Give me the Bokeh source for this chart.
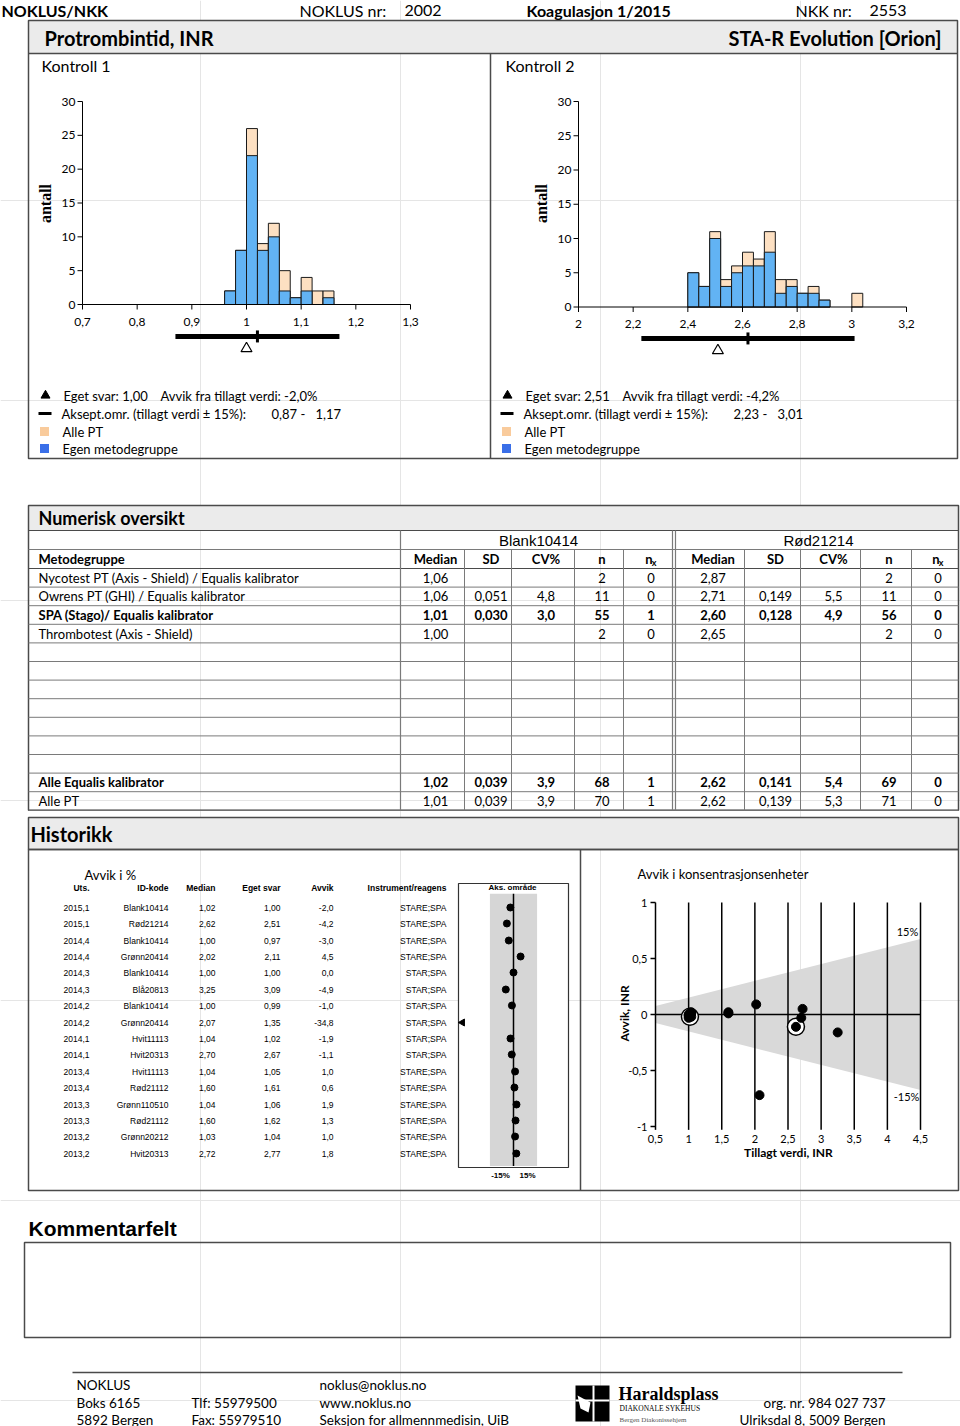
import numpy as np
from collections import defaultdict
from bokeh.plotting import figure
from bokeh.models import Range1d
from bokeh.core.properties import value
from bokeh.embed import file_html
from bokeh.resources import INLINE

# ---------------- data ----------------
program = "NOKLUS/NKK"
noklus_nr = "2002"
survey = "Koagulasjon 1/2015"
nkk_nr = "2553"
analyte = "Protrombintid, INR"
instrument = "STA-R Evolution [Orion]"
controls = ["Kontroll 1", "Kontroll 2"]
materials = ["Blank10414", "Rød21214"]

# histogram, Kontroll 1 (bin start, width 0.02)
k1_bin_start = [0.96, 0.98, 1.00, 1.02, 1.04, 1.06, 1.08, 1.10, 1.12, 1.14]
k1_egen = [2, 8, 22, 8, 10, 2, 1, 2, 0, 1]
k1_alle = [2, 8, 26, 9, 12, 5, 1, 4, 2, 2]
k1_bin_width = 0.02
k1_xticks = [0.7, 0.8, 0.9, 1.0, 1.1, 1.2, 1.3]
k1_xlabels = ["0,7", "0,8", "0,9", "1", "1,1", "1,2", "1,3"]

# histogram, Kontroll 2 (bin start, width 0.04)
k2_bin_start = [2.40, 2.44, 2.48, 2.52, 2.56, 2.60, 2.64, 2.68, 2.72, 2.76, 2.80, 2.84, 2.88, 3.00]
k2_egen = [5, 3, 10, 3, 5, 6, 6, 8, 2, 3, 2, 2, 1, 0]
k2_alle = [5, 3, 11, 4, 6, 8, 7, 11, 4, 4, 2, 3, 1, 2]
k2_bin_width = 0.04
k2_xticks = [2.0, 2.2, 2.4, 2.6, 2.8, 3.0, 3.2]
k2_xlabels = ["2", "2,2", "2,4", "2,6", "2,8", "3", "3,2"]

hist_yticks = [0, 5, 10, 15, 20, 25, 30]
hist_ylabels = ["0", "5", "10", "15", "20", "25", "30"]

own_result = [1.00, 2.51]
target_value = [1.02, 2.62]
deviation_pct = [-2.0, -4.2]
accept_low = [0.87, 2.23]
accept_high = [1.17, 3.01]

# Numerisk oversikt
method_groups = ["Nycotest PT (Axis - Shield) / Equalis kalibrator",
                 "Owrens PT (GHI) / Equalis kalibrator",
                 "SPA (Stago)/ Equalis kalibrator",
                 "Thrombotest (Axis - Shield)"]
own_group_index = 2
k1_median = [1.06, 1.06, 1.01, 1.00]
k1_sd = [None, 0.051, 0.030, None]
k1_cv = [None, 4.8, 3.0, None]
k1_n = [2, 11, 55, 2]
k1_nx = [0, 0, 1, 0]
k2_median = [2.87, 2.71, 2.60, 2.65]
k2_sd = [None, 0.149, 0.128, None]
k2_cv = [None, 5.5, 4.9, None]
k2_n = [2, 11, 56, 2]
k2_nx = [0, 0, 0, 0]
summary_labels = ["Alle Equalis kalibrator", "Alle PT"]
sum_k1_median = [1.02, 1.01]
sum_k1_sd = [0.039, 0.039]
sum_k1_cv = [3.9, 3.9]
sum_k1_n = [68, 70]
sum_k1_nx = [1, 1]
sum_k2_median = [2.62, 2.62]
sum_k2_sd = [0.141, 0.139]
sum_k2_cv = [5.4, 5.3]
sum_k2_n = [69, 71]
sum_k2_nx = [0, 0]

# Historikk
hist_uts = ["2015,1", "2015,1", "2014,4", "2014,4", "2014,3", "2014,3", "2014,2", "2014,2",
            "2014,1", "2014,1", "2013,4", "2013,4", "2013,3", "2013,3", "2013,2", "2013,2"]
hist_id = ["Blank10414", "Rød21214", "Blank10414", "Grønn20414", "Blank10414", "Blå20813",
           "Blank10414", "Grønn20414", "Hvit11113", "Hvit20313", "Hvit11113", "Rød21112",
           "Grønn110510", "Rød21112", "Grønn20212", "Hvit20313"]
hist_median = [1.02, 2.62, 1.00, 2.02, 1.00, 3.25, 1.00, 2.07, 1.04, 2.70, 1.04, 1.60, 1.04, 1.60, 1.03, 2.72]
hist_eget = [1.00, 2.51, 0.97, 2.11, 1.00, 3.09, 0.99, 1.35, 1.02, 2.67, 1.05, 1.61, 1.06, 1.62, 1.04, 2.77]
hist_avvik = [-2.0, -4.2, -3.0, 4.5, 0.0, -4.9, -1.0, -34.8, -1.9, -1.1, 1.0, 0.6, 1.9, 1.3, 1.0, 1.8]
hist_instr = ["STARE;SPA", "STARE;SPA", "STARE;SPA", "STARE;SPA", "STAR;SPA", "STAR;SPA",
              "STAR;SPA", "STAR;SPA", "STAR;SPA", "STAR;SPA", "STARE;SPA", "STARE;SPA",
              "STARE;SPA", "STARE;SPA", "STARE;SPA", "STARE;SPA"]
current_round = "2015,1"
limit_pct = 15

sc_xticks = [0.5, 1.0, 1.5, 2.0, 2.5, 3.0, 3.5, 4.0, 4.5]
sc_xlabels = ["0,5", "1", "1,5", "2", "2,5", "3", "3,5", "4", "4,5"]
sc_yticks = [1.0, 0.5, 0.0, -0.5, -1.0]
sc_ylabels = ["1", "0,5", "0", "-0,5", "-1"]

# ---------------- styles ----------------
SANS = "Lato"
ARIAL = "Liberation Sans"
SERIF = "Liberation Serif"
BLUE = "#62B3F4"
PEACH = "#FDE0C2"
LEG_BLUE = "#3A6FE8"
LEG_PEACH = "#F9CB9C"
BAR_FILL = "#ebebeb"
FRAME = "#4a4a4a"
GRID = "#7a7a7a"


def fmt(v, d):
    if v is None:
        return ""
    return f"{v:.{d}f}".replace(".", ",")


p = figure(width=960, height=1426, x_range=Range1d(0, 960), y_range=Range1d(1426, 0),
           x_axis_location=None, y_axis_location=None, toolbar_location=None,
           output_backend="svg", min_border=0)
p.outline_line_color = None
p.background_fill_color = "white"
p.border_fill_color = "white"

texts = defaultdict(lambda: dict(x=[], y=[], text=[]))
lines = defaultdict(lambda: dict(x0=[], y0=[], x1=[], y1=[]))


def T(x, y, s, size=13, bold=False, align="left", font=SANS, color="black", angle=0.0, baseline="middle"):
    g = texts[(size, bold, align, font, color, angle, baseline)]
    g["x"].append(x); g["y"].append(y); g["text"].append(s)


def L(x0, y0, x1, y1, color=GRID, width=1.0):
    g = lines[(color, width)]
    g["x0"].append(x0); g["y0"].append(y0); g["x1"].append(x1); g["y1"].append(y1)


def R(l, r, t, b, fill=None, line=None, width=1.0):
    p.quad(left=[l], right=[r], top=[t], bottom=[b], fill_color=fill, line_color=line, line_width=width)


# ---------------- header ----------------
T(1, 10, program, 16, True)
T(299, 10, "NOKLUS nr:", 16)
T(404, 10, noklus_nr, 16)
T(526, 10, survey, 16, True)
T(795, 10, "NKK nr:", 16)
T(869, 10, nkk_nr, 16)

R(28, 957, 20, 53, fill=BAR_FILL, line=None)
T(44, 37, analyte, 20, True)
T(941, 37, instrument, 20, True, align="right")
T(41, 65, controls[0], 16)
T(505, 65, controls[1], 16)
L(28, 53, 957, 53, FRAME, 1.5)
L(490, 53, 490, 458, FRAME, 1.5)
R(28, 957, 20, 458, fill=None, line=FRAME, width=1.5)


# ---------------- histograms ----------------
def histogram(xr, xt, yt, strip_yt, bins, egen, alle, bw, xticks, xlabels, own, target, lo, hi, label_x):
    s = p.subplot(x_source=Range1d(*xr), y_source=Range1d(0, 30),
                  x_target=Range1d(*xt), y_target=Range1d(*yt))
    b = np.array(bins, dtype=float)
    e = np.array(egen, dtype=float)
    a = np.array(alle, dtype=float)
    m = a > 0
    s.quad(left=b[m], right=b[m] + bw, bottom=0, top=a[m], fill_color=PEACH, line_color="#1a1a1a", line_width=1)
    m = e > 0
    s.quad(left=b[m], right=b[m] + bw, bottom=0, top=e[m], fill_color=BLUE, line_color="#1a1a1a", line_width=1)
    s.segment(x0=[xr[0]], y0=[0], x1=[xr[1]], y1=[0], line_color="black", line_width=1)
    s.segment(x0=[xr[0]], y0=[0], x1=[xr[0]], y1=[30], line_color="black", line_width=1)
    s.ray(x=xticks, y=[0] * len(xticks), length=5, length_units="screen", angle=-np.pi / 2,
          line_color="black", line_width=1)
    s.ray(x=[xr[0]] * len(hist_yticks), y=hist_yticks, length=5, length_units="screen", angle=np.pi,
          line_color="black", line_width=1)
    s.text(x=xticks, y=[0] * len(xticks), text=xlabels, y_offset=17, text_align="center",
           text_baseline="middle", text_font=value(SANS), text_font_size="12px")
    s.text(x=[xr[0]] * len(hist_yticks), y=hist_yticks, text=hist_ylabels, x_offset=-7, text_align="right",
           text_baseline="middle", text_font=value(SANS), text_font_size="12px")
    T(label_x, 203, "antall", 16, True, align="center", font=SERIF, angle=np.pi / 2)
    st = p.subplot(x_source=Range1d(*xr), y_source=Range1d(0, 1),
                   x_target=Range1d(*xt), y_target=Range1d(*strip_yt))
    st.segment(x0=[lo], y0=[0.73], x1=[hi], y1=[0.73], line_color="black", line_width=5)
    st.scatter(x=[target], y=[0.73], marker="dash", angle=np.pi / 2, size=12, line_color="black", line_width=3)
    st.scatter(x=[own], y=[0.18], marker="triangle", size=11, fill_color="white", line_color="black",
               line_width=1.2)


histogram((0.7, 1.3), (82, 410), (304, 101), (352, 330), k1_bin_start, k1_egen, k1_alle, k1_bin_width,
          k1_xticks, k1_xlabels, own_result[0], target_value[0], accept_low[0], accept_high[0], 45)
histogram((2.0, 3.2), (578, 906), (306.5, 101), (354, 332), k2_bin_start, k2_egen, k2_alle, k2_bin_width,
          k2_xticks, k2_xlabels, own_result[1], target_value[1], accept_low[1], accept_high[1], 541)

# legends under histograms
for i, (mx, tx) in enumerate([(45, 63), (507, 525)]):
    p.scatter(x=[mx], y=[395], marker="triangle", size=9, color="black")
    L(mx - 7, 413, mx + 6, 413, "black", 3)
    p.scatter(x=[mx - 1], y=[431], marker="square", size=9, color=LEG_PEACH, line_color=None)
    p.scatter(x=[mx - 1], y=[448], marker="square", size=9, color=LEG_BLUE, line_color=None)
    T(tx, 395, f"Eget svar: {fmt(own_result[i], 2)}", 13)
    T(tx + 97, 395, f"Avvik fra tillagt verdi: {fmt(deviation_pct[i], 1)}%", 13)
    T(tx - 2, 413, "Aksept.omr. (tillagt verdi ± 15%):", 13)
    T(tx + 208, 413, f"{fmt(accept_low[i], 2)} -", 13)
    T(tx + 252, 413, fmt(accept_high[i], 2), 13)
    T(tx - 1, 431, "Alle PT", 13)
    T(tx - 1, 448, "Egen metodegruppe", 13)

# ---------------- Numerisk oversikt ----------------
R(28, 958, 505, 530, fill=BAR_FILL, line=None)
T(38, 517, "Numerisk oversikt", 18, True)
colA = [400, 464, 511, 574, 623, 672]
colB = [675, 744, 800, 860, 911, 958]
row_top = 568
row_h = 18.6
n_rows = 13
table_bottom = row_top + n_rows * row_h
heads = ["Median", "SD", "CV%", "n", "n"]
T(538, 539.5, materials[0], 15, font=ARIAL, align="center")
T(818, 539.5, materials[1], 15, font=ARIAL, align="center")
T(38, 558.5, "Metodegruppe", 13, True)
for cols in (colA, colB):
    for j, h in enumerate(heads):
        cx = (cols[j] + cols[j + 1]) / 2 + 3
        if j == 4:
            T(cx - 2, 558.5, "n", 13, True, align="center")
            T(cx + 3, 562, "x", 9, True, align="center")
        else:
            T(cx, 558.5, h, 13, True, align="center")


def table_row(i, label, bold, vals_a, vals_b):
    y = row_top + row_h * (i + 0.5)
    T(38, y, label, 13, bold)
    for cols, vals in ((colA, vals_a), (colB, vals_b)):
        for j, s in enumerate(vals):
            cx = (cols[j] + cols[j + 1]) / 2 + 3
            T(cx, y, s, 13, bold, align="center")


for i, lab in enumerate(method_groups):
    va = [fmt(k1_median[i], 2), fmt(k1_sd[i], 3), fmt(k1_cv[i], 1), str(k1_n[i]), str(k1_nx[i])]
    vb = [fmt(k2_median[i], 2), fmt(k2_sd[i], 3), fmt(k2_cv[i], 1), str(k2_n[i]), str(k2_nx[i])]
    table_row(i, lab, i == own_group_index, va, vb)
for k, lab in enumerate(summary_labels):
    va = [fmt(sum_k1_median[k], 2), fmt(sum_k1_sd[k], 3), fmt(sum_k1_cv[k], 1), str(sum_k1_n[k]), str(sum_k1_nx[k])]
    vb = [fmt(sum_k2_median[k], 2), fmt(sum_k2_sd[k], 3), fmt(sum_k2_cv[k], 1), str(sum_k2_n[k]), str(sum_k2_nx[k])]
    table_row(n_rows - 2 + k, lab, k == 0, va, vb)

L(28, 530, 958, 530, FRAME, 1.2)
L(28, 549, 958, 549, GRID, 1)
for i in range(n_rows + 1):
    L(28, row_top + i * row_h, 958, row_top + i * row_h, FRAME if i == 0 else GRID, 1.2 if i == 0 else 1)
for x in (colA[0], colA[-1], colB[0]):
    L(x, 530, x, table_bottom, GRID, 1.2)
for x in colA[1:-1] + colB[1:-1]:
    L(x, 549, x, table_bottom, GRID, 1)
R(28, 958, 505, table_bottom, fill=None, line=FRAME, width=1.5)

# ---------------- Historikk ----------------
R(28, 958, 817, 849, fill=BAR_FILL, line=FRAME, width=1.5)
T(30, 833, "Historikk", 20, True)
R(28, 958, 849, 1190, fill=None, line=FRAME, width=1.5)
L(580, 849, 580, 1190, FRAME, 1.5)

T(84, 874, "Avvik i %", 13)
hrow0 = 907.2
hrow_h = 16.4
hist_cols = [89, 168, 215, 280, 333, 446]
hist_heads = ["Uts.", "ID-kode", "Median", "Eget svar", "Avvik", "Instrument/reagens"]
for x, h in zip(hist_cols, hist_heads):
    T(x, 887, h, 8.5, True, align="right", font=ARIAL)
for i in range(len(hist_uts)):
    y = hrow0 + i * hrow_h
    row = [hist_uts[i], hist_id[i], fmt(hist_median[i], 2), fmt(hist_eget[i], 2), fmt(hist_avvik[i], 1), hist_instr[i]]
    for x, s in zip(hist_cols, row):
        T(x, y, s, 8.5, align="right", font=ARIAL)

# Aks. område column
R(458, 568, 883, 1167, fill="white", line="#333333", width=1.2)
T(512, 887, "Aks. område", 8, True, align="center", font=ARIAL)
ak = p.subplot(x_source=Range1d(-35, 35), y_source=Range1d(-0.5, 15.5),
               x_target=Range1d(458, 568), y_target=Range1d(hrow0 - 0.5 * hrow_h, hrow0 + 15.5 * hrow_h))
ak.quad(left=[-limit_pct], right=[limit_pct], top=[-0.85], bottom=[15.75], fill_color="#d6d6d6", line_color=None)
ak.segment(x0=[0], y0=[-0.85], x1=[0], y1=[15.75], line_color="black", line_width=1.5)
av = np.array(hist_avvik)
idx = np.arange(len(av))
inside = np.abs(av) <= 2 * limit_pct
ak.scatter(x=av[inside], y=idx[inside], size=7, color="black")
ak.scatter(x=np.sign(av[~inside]) * 32.5, y=idx[~inside], marker="triangle", angle=np.pi / 2, size=7, color="black")
T(500, 1175, f"-{limit_pct}%", 8, True, align="center", font=ARIAL)
T(527, 1175, f"{limit_pct}%", 8, True, align="center", font=ARIAL)

# Avvik i konsentrasjonsenheter
T(637, 873, "Avvik i konsentrasjonsenheter", 13)
sc = p.subplot(x_source=Range1d(0.5, 4.5), y_source=Range1d(-1, 1),
               x_target=Range1d(655, 920), y_target=Range1d(1126, 902))
lim = limit_pct / 100.0
sc.patch(x=[0.5, 4.5, 4.5, 0.5], y=[lim * 0.5, lim * 4.5, -lim * 4.5, -lim * 0.5],
         fill_color="#d9d9d9", line_color=None)
sc.segment(x0=sc_xticks[1:], y0=[-1.03] * 8, x1=sc_xticks[1:], y1=[1] * 8, line_color="black", line_width=1.5)
sc.segment(x0=[0.5], y0=[-1.03], x1=[0.5], y1=[1], line_color="black", line_width=1.5)
sc.segment(x0=[0.5], y0=[0], x1=[4.5], y1=[0], line_color="black", line_width=1.5)
sc.ray(x=[0.5] * 5, y=sc_yticks, length=5, length_units="screen", angle=np.pi, line_color="black", line_width=1.5)
sc.text(x=sc_xticks, y=[-1] * 9, text=sc_xlabels, y_offset=12, text_align="center", text_baseline="middle",
        text_font=value(SANS), text_font_size="11px")
sc.text(x=[0.5] * 5, y=sc_yticks, text=sc_ylabels, x_offset=-8, text_align="right", text_baseline="middle",
        text_font=value(SANS), text_font_size="11px")
med = np.array(hist_median)
dev = np.array(hist_eget) - med
cur = np.array([u == current_round for u in hist_uts])
sc.scatter(x=med[cur], y=dev[cur], size=17, fill_color="white", line_color="black", line_width=1.5)
sc.scatter(x=med, y=dev, size=9, color="black")
T(907, 931, f"{limit_pct}%", 11, align="center")
T(906, 1096, f"-{limit_pct}%", 11, align="center")
T(788, 1152, "Tillagt verdi, INR", 12, True, align="center")
T(624, 1013, "Avvik, INR", 12, True, align="center", angle=np.pi / 2)

# ---------------- Kommentarfelt ----------------
T(28, 1228, "Kommentarfelt", 21, True, font=ARIAL)
R(24, 950, 1242, 1337, fill=None, line=FRAME, width=1.5)

# ---------------- footer ----------------
L(72, 1372, 902, 1372, FRAME, 1.5)
T(76, 1384, "NOKLUS", 13.5)
T(76, 1402, "Boks 6165", 13.5)
T(76, 1419, "5892 Bergen", 13.5)
T(191, 1402, "Tlf:  55979500", 13.5)
T(191, 1419, "Fax: 55979510", 13.5)
T(319, 1384, "noklus@noklus.no", 13.5)
T(319, 1402, "www.noklus.no", 13.5)
T(319, 1419, "Seksjon for allmennmedisin, UiB", 13.5)
T(885, 1402, "org. nr. 984 027 737", 13.5, align="right")
T(885, 1419, "Ulriksdal 8, 5009 Bergen", 13.5, align="right")
R(575, 609, 1385, 1421, fill="black", line=None)
L(593, 1385, 593, 1421, "white", 2)
L(575, 1400, 609, 1400, "white", 2)
p.patch(x=[577, 590, 588, 580], y=[1395, 1402, 1412, 1408], fill_color="white", line_color=None)
T(618, 1393, "Haraldsplass", 18, True, font=SERIF)
T(619, 1408, "DIAKONALE SYKEHUS", 7.5, font=SERIF)
T(619, 1419, "Bergen Diakonissehjem", 7, font=SERIF, color="#555555")

# ---------------- emit batched glyphs ----------------
for (color, width), g in lines.items():
    p.segment(x0=g["x0"], y0=g["y0"], x1=g["x1"], y1=g["y1"], line_color=color, line_width=width)
for (size, bold, align, font, color, angle, baseline), g in texts.items():
    p.text(x=g["x"], y=g["y"], text=g["text"], text_font=value(font), text_font_size=f"{size}px",
           text_font_style="bold" if bold else "normal", text_align=align, text_baseline=baseline,
           text_color=color, angle=angle)

open("out.html", "w").write(file_html(p, INLINE))
